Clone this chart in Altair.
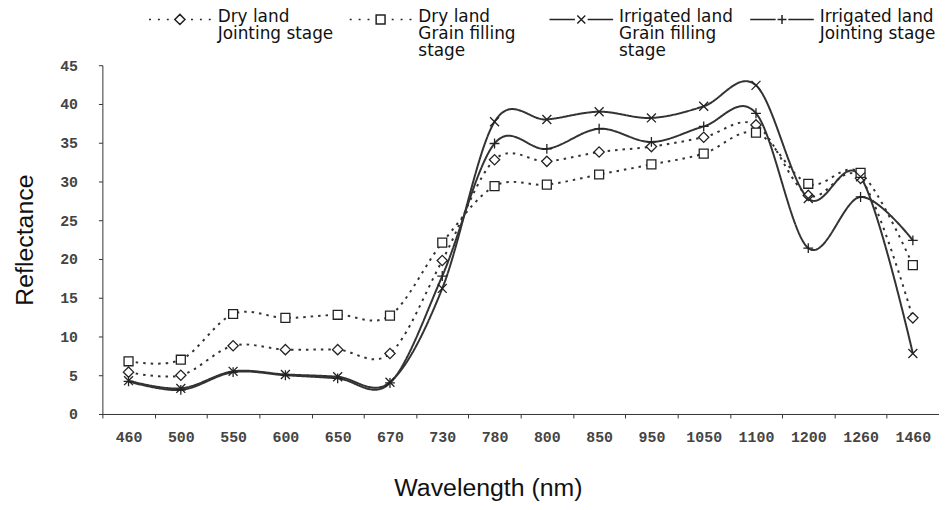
import altair as alt
import pandas as pd

# ---------------- data ----------------
wavelength = ["460", "500", "550", "600", "650", "670", "730", "780",
              "800", "850", "950", "1050", "1100", "1200", "1260", "1460"]

series_names = [
    "Dry land|Jointing stage|",
    "Dry land|Grain filling|stage",
    "Irrigated land|Grain filling|stage",
    "Irrigated land|Jointing stage|",
]

dry_jointing = [5.4, 5.0, 8.8, 8.3, 8.3, 7.8, 19.8, 32.8, 32.6, 33.8, 34.5, 35.7, 37.3, 28.2, 30.4, 12.4]
dry_grain = [6.8, 7.0, 12.9, 12.4, 12.8, 12.7, 22.1, 29.4, 29.6, 30.9, 32.2, 33.6, 36.3, 29.7, 31.1, 19.2]
irr_grain = [4.3, 3.3, 5.5, 5.1, 4.8, 4.1, 16.2, 37.7, 38.0, 39.0, 38.2, 39.7, 42.4, 27.8, 30.6, 7.8]
irr_jointing = [4.2, 3.1, 5.4, 5.0, 4.6, 4.0, 17.8, 34.9, 34.2, 36.8, 35.1, 37.1, 38.8, 21.4, 28.0, 22.4]

values = [dry_jointing, dry_grain, irr_grain, irr_jointing]
rows = []
for name, vals in zip(series_names, values):
    for w, v in zip(wavelength, vals):
        rows.append({"wavelength": w, "reflectance": v, "series": name})
df = pd.DataFrame(rows)

# ---------------- styles ----------------
marker_paths = [
    "M0,-1.15L1.15,0L0,1.15L-1.15,0Z",
    "M-1,-1H1V1H-1Z",
    "M-1,-1L1,1M-1,1L1,-1",
    "M-1.1,0H1.1M0,-1.1V1.1",
]

LY = 0.31  # vertical offset of legend glyph inside its symbol box


def dots():
    parts = []
    for p in [-0.97, -0.69, -0.41, 0.35, 0.63, 0.91]:
        parts.append(f"M{p:.2f},{LY}h0.06")
    return "".join(parts)


def pt(x, y):
    return f"{x:.3f},{y + LY:.3f}"


legend_paths = [
    dots() + f"M{pt(0,-0.16)}L{pt(0.16,0)}L{pt(0,0.16)}L{pt(-0.16,0)}Z",
    dots() + f"M{pt(-0.14,-0.14)}L{pt(0.14,-0.14)}L{pt(0.14,0.14)}L{pt(-0.14,0.14)}Z",
    f"M{pt(-1,0)}L{pt(-0.2,0)}M{pt(0.2,0)}L{pt(1,0)}"
    f"M{pt(-0.125,-0.125)}L{pt(0.125,0.125)}M{pt(-0.125,0.125)}L{pt(0.125,-0.125)}",
    f"M{pt(-1,0)}L{pt(-0.2,0)}M{pt(0.2,0)}L{pt(1,0)}"
    f"M{pt(-0.14,0)}L{pt(0.14,0)}M{pt(0,-0.14)}L{pt(0,0.14)}",
]

W, H = 842, 351

x_enc = alt.X(
    "wavelength:N",
    sort=wavelength,
    scale=alt.Scale(type="band", paddingInner=0, paddingOuter=0),
    axis=alt.Axis(
        title="Wavelength (nm)",
        titleFont="Liberation Sans",
        titleFontSize=25,
        titleFontWeight="normal",
        titleColor="#111",
        titleX=388,
        titleY=82,
        titleBaseline="alphabetic",
        labelFont="Liberation Mono",
        labelFontSize=15,
        labelFontWeight="bold",
        labelColor="#444",
        labelPadding=12,
        labelAngle=0,
        tickSize=4,
        tickBand="extent",
        tickColor="#333",
        domainColor="#333",
        grid=False,
    ),
)

y_enc = alt.Y(
    "reflectance:Q",
    scale=alt.Scale(domain=[0, 45], nice=False),
    axis=alt.Axis(
        title="Reflectance",
        values=[0, 5, 10, 15, 20, 25, 30, 35, 40, 45],
        titleFont="Liberation Sans",
        titleFontSize=25,
        titleFontWeight="normal",
        titleColor="#111",
        titleX=-70,
        titleY=175.5,
        titleBaseline="alphabetic",
        labelFont="Liberation Mono",
        labelFontSize=15,
        labelFontWeight="bold",
        labelColor="#444",
        labelPadding=21,
        tickSize=4,
        tickColor="#333",
        domainColor="#333",
        grid=False,
    ),
)

base = alt.Chart(df)

lines = base.mark_line(interpolate="cardinal", color="#333").encode(
    x=x_enc,
    y=y_enc,
    detail="series:N",
    strokeDash=alt.StrokeDash(
        "series:N",
        scale=alt.Scale(domain=series_names, range=[[2.5, 5], [2.5, 5], [1, 0], [1, 0]]),
        legend=None,
    ),
    strokeWidth=alt.StrokeWidth(
        "series:N",
        scale=alt.Scale(domain=series_names, range=[2, 2, 1.5, 1.5]),
        legend=None,
    ),
)

points = base.mark_point(filled=True, fill="white", stroke="#222", strokeWidth=1.3, size=81, opacity=1).encode(
    x=x_enc,
    y=y_enc,
    shape=alt.Shape("series:N", scale=alt.Scale(domain=series_names, range=marker_paths), legend=None),
)

legend_layer = base.transform_filter("false").mark_point(
    filled=False, color="#222", stroke="#222", strokeWidth=1.5
).encode(
    x=x_enc,
    y=y_enc,
    shape=alt.Shape(
        "series:N",
        scale=alt.Scale(domain=series_names, range=legend_paths),
        legend=alt.Legend(
            title=None,
            orient="none",
            legendX=45,
            legendY=-89,
            direction="horizontal",
            columns=4,
            gridAlign="all",
            columnPadding=12,
            padding=0,
            symbolSize=4096,
            symbolStrokeWidth=1.5,
            symbolStrokeColor="#222",
            symbolOpacity=1,
            labelFont="DejaVu Sans",
            labelFontSize=17,
            labelColor="#111",
            labelBaseline="top",
            labelOffset=5,
            labelLimit=220,
            labelExpr="split(datum.label, '|')",
        ),
    ),
)

chart = (
    alt.layer(lines, points, legend_layer)
    .resolve_scale(shape="independent")
    .properties(
        width=W,
        height=H,
        autosize=alt.AutoSizeParams(type="none"),
        padding={"left": 95, "top": 56, "right": 0, "bottom": 87},
        background="white",
    )
    .configure(style={"guide-label": {"lineHeight": 17}})
    .configure_view(stroke=None)
)

chart.save("out.html", embed_options={"renderer": "svg", "actions": False})
